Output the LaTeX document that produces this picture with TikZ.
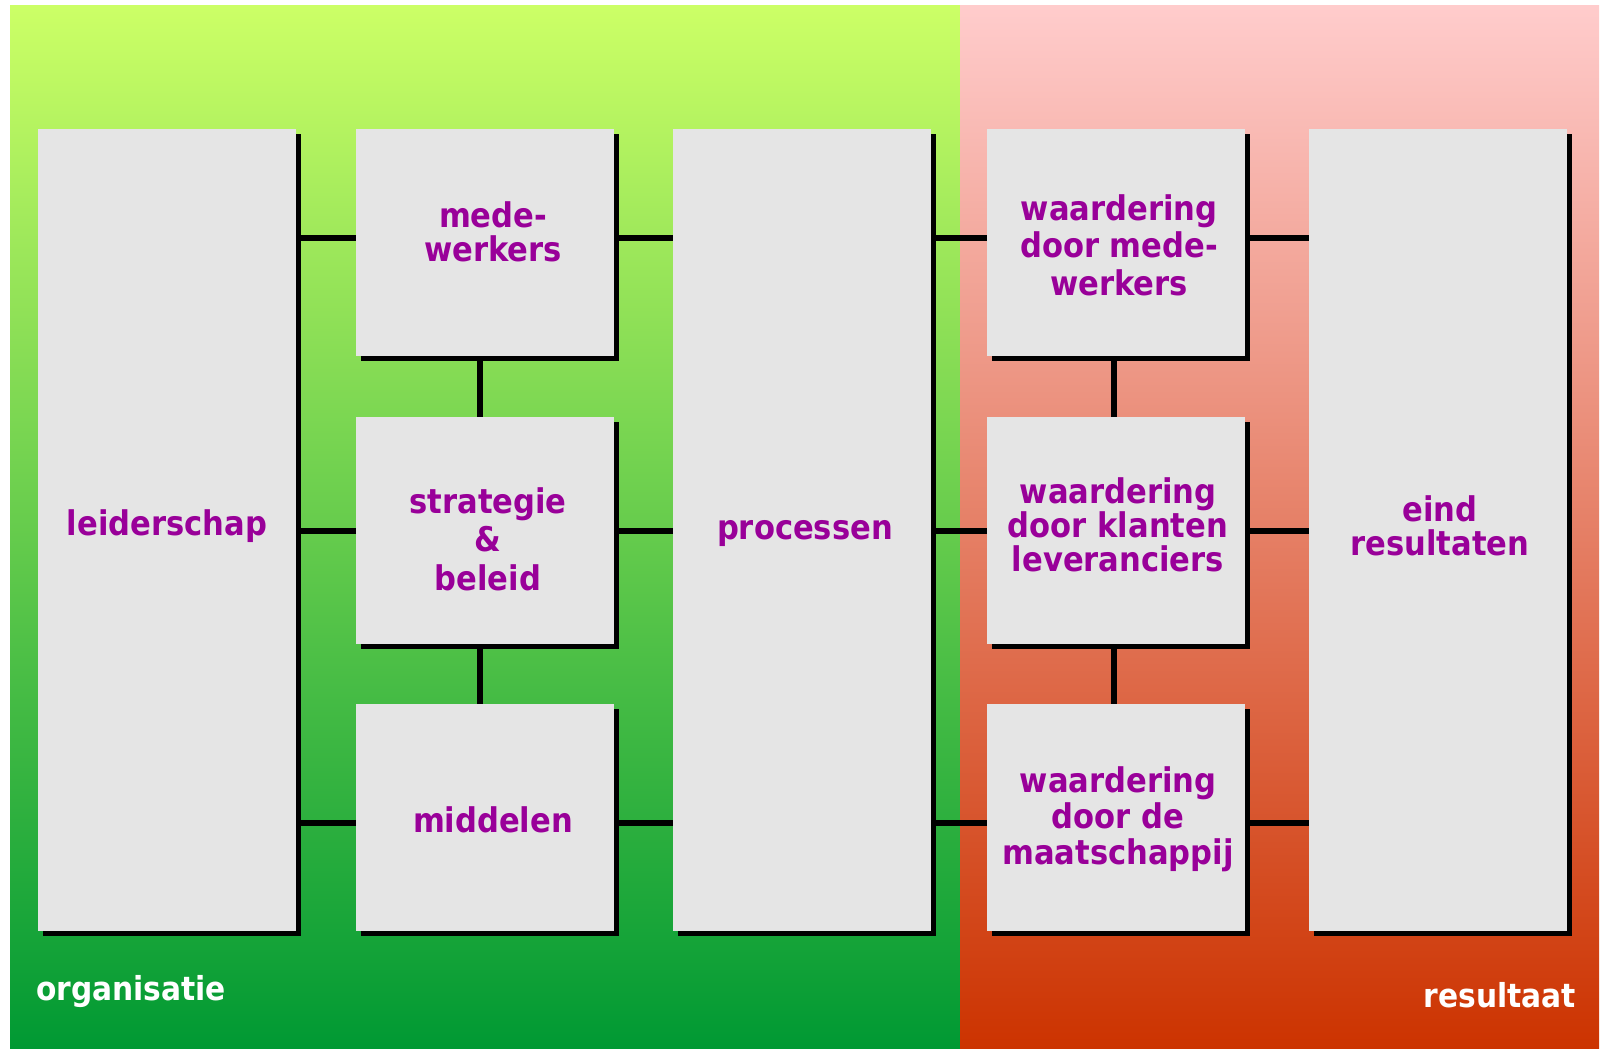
\documentclass[tikz,border=0pt]{standalone}
\usepackage{fontspec}
\newfontfamily\lbl{DejaVu Sans Condensed}
\usetikzlibrary{shadows}
\definecolor{gtop}{HTML}{CCFF66}
\definecolor{gbot}{HTML}{009933}
\definecolor{rtop}{HTML}{FFCCCC}
\definecolor{rbot}{HTML}{CC3300}
\definecolor{boxgray}{HTML}{E5E5E5}
\definecolor{txt}{HTML}{990099}
\begin{document}
\begin{tikzpicture}[x=1pt,y=-1pt,
  box/.style={fill=boxgray, draw=none, minimum width=258pt, inner sep=0pt, outer sep=0pt,
    drop shadow={shadow xshift=5pt, shadow yshift=-5pt, fill=black, opacity=1}},
  tall/.style={box, minimum height=802pt},
  small/.style={box, minimum height=227pt},
  lab/.style={text=txt, inner sep=0pt, align=center, anchor=base,
    font=\lbl\bfseries\fontsize{34}{#1}\selectfont},
  lab/.default=34,
  corner/.style={text=white, inner sep=0pt,
    font=\lbl\bfseries\fontsize{33}{33}\selectfont},
  conn/.style={line width=5.3pt, draw=black}]
\useasboundingbox (0,0) rectangle (1611,1049);
\shade[top color=gtop, bottom color=gbot] (10,6) rectangle (960,1049);
\shade[top color=rtop, bottom color=rbot] (960,6) rectangle (1599,1049);

% boxes
\node[tall]  (lead) at (167,530) {};
\node[small] (mw)   at (485,242.5) {};
\node[small] (sb)   at (485,530.5) {};
\node[small] (mid)  at (485,817.5) {};
\node[tall]  (proc) at (802,530) {};
\node[small] (wm)   at (1116,242.5) {};
\node[small] (wk)   at (1116,530.5) {};
\node[small] (wmt)  at (1116,817.5) {};
\node[tall]  (eind) at (1437.5,530) {};

% rows / columns for connectors
\coordinate (r1) at (0,238);
\coordinate (r2) at (0,531);
\coordinate (r3) at (0,823);
\coordinate (v2) at (480,0);
\coordinate (v4) at (1114,0);

\foreach \r in {r1,r2,r3}{
  \draw[conn] (lead.east |- \r) -- (mw.west |- \r);
  \draw[conn] (mw.east |- \r) -- (proc.west |- \r);
  \draw[conn] (proc.east |- \r) -- (wm.west |- \r);
  \draw[conn] (wm.east |- \r) -- (eind.west |- \r);
}
\draw[conn] (mw.south -| v2) -- (sb.north -| v2);
\draw[conn] (sb.south -| v2) -- (mid.north -| v2);
\draw[conn] (wm.south -| v4) -- (wk.north -| v4);
\draw[conn] (wk.south -| v4) -- (wmt.north -| v4);

% labels (anchor = baseline of the last line)
\node[lab] (tlead) at (167,535) {leiderschap};
\node[lab] (tmw) at (493,261) {mede-\\werkers};
\node[lab=38.5] (tsb) at (488,590) {strategie\\\&\\beleid};
\node[lab] (tmid) at (493,832) {middelen};
\node[lab] (tproc) at (805,539) {processen};
\node[lab=37.5] (twm) at (1119,295) {waardering\\door mede-\\werkers};
\node[lab=34] (twk) at (1118,571) {waardering\\door klanten\\leveranciers};
\node[lab=36] (twmt) at (1118,864) {waardering\\door de\\maatschappij};
\node[lab] (teind) at (1440,555) {eind\\resultaten};

\node[corner, anchor=base west] (org) at (36,1000) {organisatie};
\node[corner, anchor=base east] (res) at (1576,1007) {resultaat};
\end{tikzpicture}
\end{document}
